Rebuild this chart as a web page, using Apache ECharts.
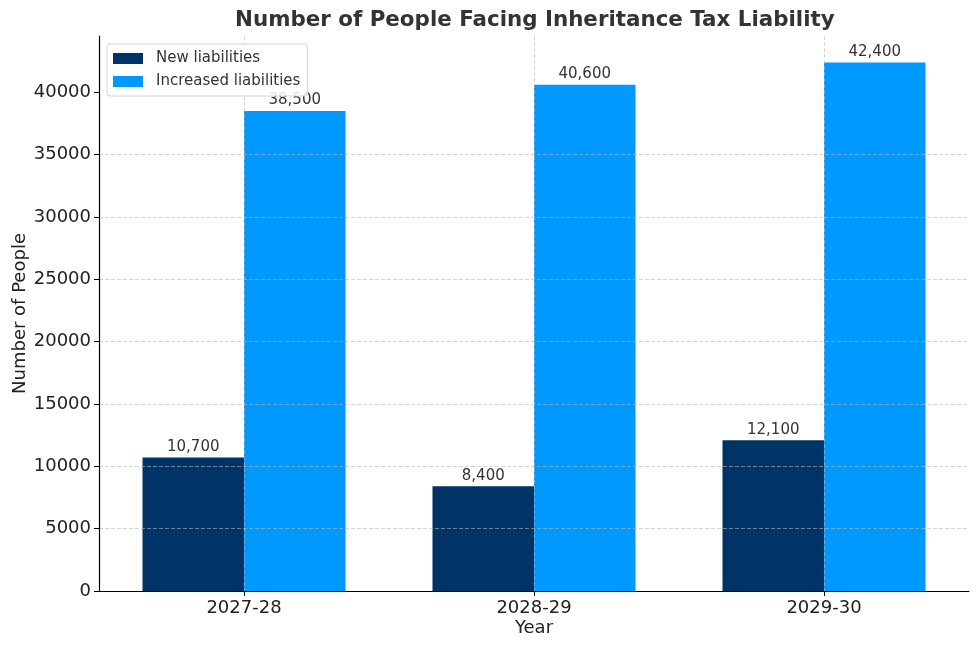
<!DOCTYPE html>
<html>
<head>
<meta charset="utf-8">
<script src="https://cdn.jsdelivr.net/npm/echarts@6/dist/echarts.min.js"></script>
<style>
html,body{margin:0;padding:0;background:#fff;}
#chart{width:980px;height:650px;}
</style>
</head>
<body>
<div id="chart"></div>
<script>
const categories = ['2027-28', '2028-29', '2029-30'];
const newLiabilities = [10700, 8400, 12100];
const increasedLiabilities = [38500, 40600, 42400];
const yTicks = [0, 5000, 10000, 15000, 20000, 25000, 30000, 35000, 40000];
const seriesNames = ['New liabilities', 'Increased liabilities'];

const FONT = 'DejaVu Sans';
const chart = echarts.init(document.getElementById('chart'), null, {renderer: 'canvas'});
const fmt = p => Number(p.value).toLocaleString('en-US');
const gridLine = {show: true, lineStyle: {color: 'rgba(185,185,185,0.75)', type: [4, 2], width: 0.8}};

chart.setOption({
  animation: false,
  backgroundColor: '#ffffff',
  textStyle: {fontFamily: FONT},
  title: {
    text: 'Number of People Facing Inheritance Tax Liability',
    left: 235, top: 10, padding: 0,
    textStyle: {fontFamily: FONT, fontWeight: 'bold', fontSize: 21.4, color: '#333333'}
  },
  legend: {
    orient: 'vertical',
    left: 107, top: 44,
    padding: [7, 7, 7, 6],
    itemGap: 8,
    itemWidth: 30, itemHeight: 11,
    backgroundColor: 'rgba(255,255,255,0.85)',
    borderColor: '#d5d5d5', borderWidth: 1, borderRadius: 3,
    icon: 'rect',
    data: seriesNames,
    textStyle: {fontFamily: FONT, fontSize: 15, color: '#333333', padding: [0, 0, 0, 8]}
  },
  grid: {left: 99, right: 11, top: 36, bottom: 59, containLabel: false, outerBoundsMode: 'none'},
  xAxis: {
    type: 'category',
    data: categories,
    z: 3,
    name: 'Year', nameLocation: 'middle', nameGap: 28, nameMoveOverlap: false,
    nameTextStyle: {fontFamily: FONT, fontSize: 18, color: '#222222'},
    axisLine: {show: true, lineStyle: {color: '#000000', width: 1.2}},
    axisTick: {show: true, alignWithLabel: true, length: 5, lineStyle: {color: '#000000'}},
    axisLabel: {fontFamily: FONT, fontSize: 18, color: '#222222', margin: 8},
    splitLine: Object.assign({alignWithLabel: true}, gridLine)
  },
  yAxis: {
    type: 'value',
    min: 0, max: 44520, interval: 5000,
    z: 3,
    name: 'Number of People', nameLocation: 'middle', nameGap: 70, nameMoveOverlap: false,
    nameTextStyle: {fontFamily: FONT, fontSize: 18, color: '#222222'},
    axisLine: {show: true, lineStyle: {color: '#000000', width: 1.2}},
    axisTick: {show: true, length: 5, customValues: yTicks, lineStyle: {color: '#000000'}},
    axisLabel: {fontFamily: FONT, fontSize: 18, color: '#222222', margin: 8, customValues: yTicks, formatter: v => String(v)},
    splitLine: Object.assign({showMaxLine: false, showMinLine: false}, gridLine)
  },
  series: [
    {
      name: seriesNames[0], type: 'bar', data: newLiabilities,
      barWidth: '35%', barGap: '0%',
      itemStyle: {color: '#003366'},
      label: {show: true, position: 'top', distance: 3, fontFamily: FONT, fontSize: 15, color: '#333333', formatter: fmt}
    },
    {
      name: seriesNames[1], type: 'bar', data: increasedLiabilities,
      barWidth: '35%', barGap: '0%',
      itemStyle: {color: '#0099ff'},
      label: {show: true, position: 'top', distance: 3, fontFamily: FONT, fontSize: 15, color: '#333333', formatter: fmt}
    }
  ]
});
</script>
</body>
</html>
